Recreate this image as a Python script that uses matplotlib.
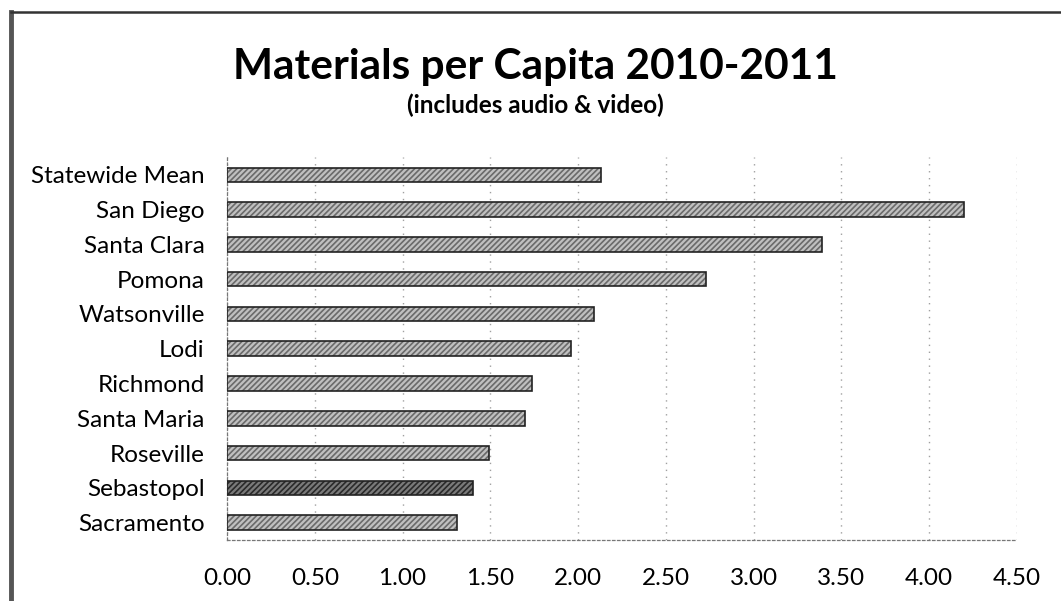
import matplotlib
matplotlib.use('AGG')
import matplotlib.pyplot as plt
import numpy as np
from matplotlib import rcParams
from matplotlib.lines import Line2D

rcParams['font.family'] = ['Lato', 'DejaVu Sans']
rcParams['hatch.linewidth'] = 1.2

# data
libraries = ['Statewide Mean', 'San Diego', 'Santa Clara', 'Pomona', 'Watsonville',
             'Lodi', 'Richmond', 'Santa Maria', 'Roseville', 'Sebastopol', 'Sacramento']
per_capita = [2.13, 4.20, 3.39, 2.73, 2.09, 1.96, 1.74, 1.70, 1.49, 1.40, 1.31]
highlight = 'Sebastopol'
xticks = [0.0, 0.5, 1.0, 1.5, 2.0, 2.5, 3.0, 3.5, 4.0, 4.5]

fig = plt.figure(figsize=(10.61, 6.01), dpi=100)
ax = fig.add_axes([0.214, 0.1015, 0.7445, 0.6365])

y = np.arange(len(libraries))
face = ['#7a7a7a' if name == highlight else '#c0c0c0' for name in libraries]
hatchc = ['#2a2a2a' if name == highlight else '#6a6a6a' for name in libraries]
bars = ax.barh(y, per_capita, height=0.42, color=face, edgecolor='#222222',
               linewidth=1.2, hatch='//////', zorder=3)
for b, hc in zip(bars, hatchc):
    b._hatch_color = matplotlib.colors.to_rgba(hc)

ax.set_xlim(0, 4.5)
ax.set_ylim(len(libraries) - 0.5, -0.5)
ax.set_yticks(y)
ax.set_yticklabels(libraries, fontsize=17.5)
ax.set_xticks(xticks)
ax.set_xticklabels(['%.2f' % t for t in xticks], fontsize=17.5)
ax.tick_params(axis='y', length=0, pad=16)
ax.tick_params(axis='x', length=0, pad=20)

# faint dotted gridlines like the scan
ax.xaxis.grid(True, color='#a0a0a0', linestyle=(0, (1, 4)), linewidth=1.0)
ax.set_axisbelow(True)
for side in ['top', 'right']:
    ax.spines[side].set_visible(False)
for side in ['left', 'bottom']:
    ax.spines[side].set_color('#777777')
    ax.spines[side].set_linestyle((0, (2, 2)))
    ax.spines[side].set_linewidth(0.9)

fig.text(0.505, 0.888, 'Materials per Capita 2010-2011', ha='center', va='center',
         fontsize=30.5, fontweight='bold')
fig.text(0.505, 0.825, '(includes audio & video)', ha='center', va='center',
         fontsize=17.5, fontweight='bold')

# chart frame (only left and top edges show in the scan)
fig.add_artist(Line2D([0.0105, 0.0105], [0.0, 0.98], transform=fig.transFigure,
                      color='#555555', linewidth=3.5))
fig.add_artist(Line2D([0.0105, 1.0], [0.98, 0.98], transform=fig.transFigure,
                      color='#333333', linewidth=1.8))

plt.savefig('out.png', dpi=100)
